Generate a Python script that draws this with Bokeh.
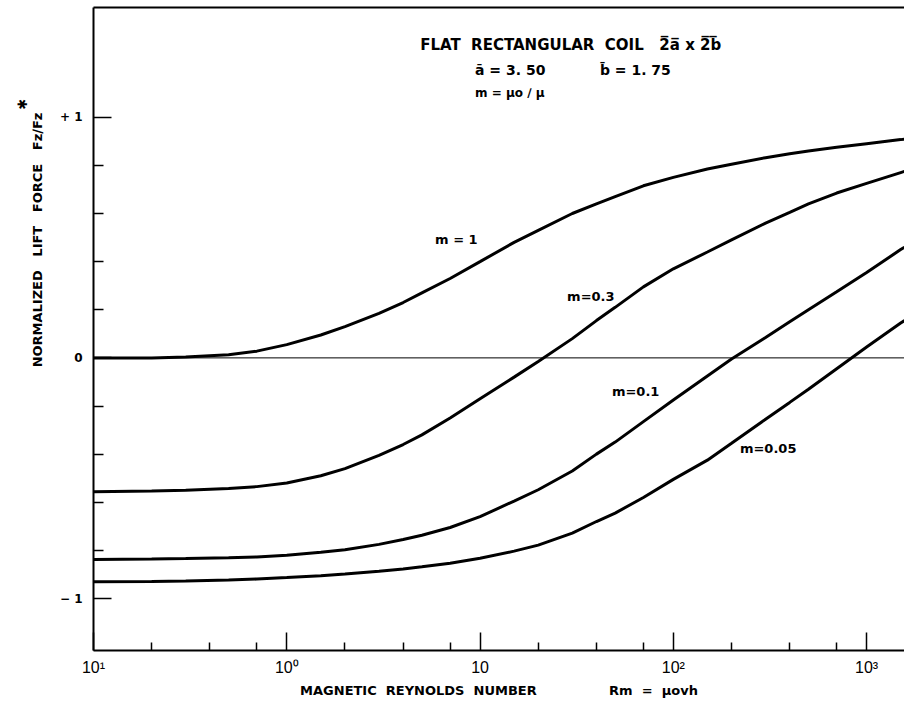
import math
from bokeh.plotting import figure
from bokeh.models import Range1d, FixedTicker, LogAxis, Label, Span, Title
from bokeh.embed import file_html
from bokeh.resources import INLINE

# ---- data ----
rm = [0.1, 0.2, 0.3, 0.5, 0.7, 1, 1.5, 2, 3, 4, 5, 7, 10, 15, 20, 30, 40, 50, 70, 100,
      150, 200, 300, 400, 500, 700, 1000, 1500, 1570]
m_1 = [0.0, 0.0, 0.004, 0.013, 0.028, 0.055, 0.095, 0.13, 0.185, 0.23, 0.27, 0.33, 0.40, 0.48, 0.53,
       0.60, 0.64, 0.67, 0.715, 0.75, 0.785, 0.805, 0.832, 0.848, 0.86, 0.875, 0.89, 0.907, 0.909]
m_03 = [-0.556, -0.553, -0.55, -0.543, -0.535, -0.52, -0.49, -0.46, -0.405, -0.36, -0.32, -0.25, -0.17,
        -0.08, -0.015, 0.08, 0.155, 0.21, 0.295, 0.37, 0.44, 0.49, 0.56, 0.605, 0.64, 0.685, 0.725,
        0.77, 0.775]
m_01 = [-0.838, -0.836, -0.834, -0.831, -0.827, -0.82, -0.808, -0.797, -0.775, -0.755, -0.737, -0.705,
        -0.66, -0.595, -0.548, -0.47, -0.40, -0.35, -0.265, -0.175, -0.075, -0.005, 0.085, 0.15, 0.2,
        0.275, 0.355, 0.45, 0.46]
m_005 = [-0.93, -0.929, -0.927, -0.923, -0.919, -0.913, -0.905, -0.898, -0.887, -0.877, -0.868, -0.853,
         -0.833, -0.803, -0.778, -0.728, -0.68, -0.645, -0.58, -0.505, -0.425, -0.355, -0.255, -0.185,
         -0.13, -0.045, 0.045, 0.145, 0.155]

x_major = [0.1, 1, 10, 100, 1000]
x_major_labels = ["10\u00b9", "10\u2070", "10", "10\u00b2", "10\u00b3"]
x_minor = [0.2, 0.4, 0.7, 2, 4, 7, 20, 40, 70, 200, 400, 700]
y_major = [-1, 0, 1]
y_major_labels = ["\u2212 1", "0", "+ 1"]
y_minor = [-0.8, -0.6, -0.4, -0.2, 0.2, 0.4, 0.6, 0.8]

FONT = "DejaVu Sans"
NB = "\u00a0"

p = figure(width=904, height=700, x_axis_type="log",
           x_range=Range1d(0.1, 1570), y_range=Range1d(-1.216, 1.456),
           output_backend="svg", toolbar_location=None,
           min_border_left=93, min_border_right=0, min_border_top=7, min_border_bottom=49)
p.grid.visible = False
p.outline_line_color = None
p.background_fill_color = "white"
p.border_fill_color = "white"

# bottom axis
xa = p.xaxis[0]
xa.ticker = FixedTicker(ticks=x_major, minor_ticks=x_minor)
xa.major_label_overrides = {k: v for k, v in zip(x_major, x_major_labels)}
xa.major_tick_in = 18
xa.major_tick_out = 0
xa.minor_tick_in = 8
xa.minor_tick_out = 0
xa.major_tick_line_width = 1.5
xa.minor_tick_line_width = 1.5
xa.axis_line_width = 2
xa.major_label_standoff = 8
xa.major_label_text_font = "Liberation Sans"
xa.major_label_text_font_size = "16px"
xa.major_label_text_color = "black"
xa.axis_label = ("MAGNETIC" + NB * 2 + "REYNOLDS" + NB * 2 + "NUMBER" + NB * 16 +
                 "Rm" + NB * 2 + "=" + NB * 2 + "\u03bcovh")
xa.axis_label_text_font = FONT
xa.axis_label_text_font_style = "bold"
xa.axis_label_text_font_size = "13px"
xa.axis_label_text_color = "black"
xa.axis_label_standoff = 4

# left axis
ya = p.yaxis[0]
ya.ticker = FixedTicker(ticks=y_major, minor_ticks=y_minor)
ya.major_label_overrides = {k: v for k, v in zip(y_major, y_major_labels)}
ya.major_tick_in = 18
ya.major_tick_out = 0
ya.minor_tick_in = 10
ya.minor_tick_out = 0
ya.major_tick_line_width = 1.5
ya.minor_tick_line_width = 1.5
ya.axis_line_width = 2
ya.major_label_standoff = 11
ya.major_label_text_font = FONT
ya.major_label_text_font_style = "bold"
ya.major_label_text_font_size = "12px"
ya.major_label_text_color = "black"

# y label as a two-line side title: the asterisk sits on the outer line, at the end
ylab = (NB * 57 + "\u2731\n" + "NORMALIZED" + NB * 3 + "LIFT" + NB * 3 + "FORCE" + NB * 3 +
        "Fz\u2215Fz" + NB * 3)
p.add_layout(Title(text=ylab, align="right", offset=91, standoff=24, text_font=FONT,
                   text_font_size="13px", text_font_style="bold", text_color="black"), "left")

# top border
top = LogAxis(ticker=FixedTicker(ticks=[]), major_label_text_font_size="0px",
              major_tick_line_color=None, minor_tick_line_color=None, axis_line_width=2,
              major_label_standoff=0)
p.add_layout(top, "above")

# zero line
p.add_layout(Span(location=0, dimension="width", line_color="black", line_width=1))

for ys in (m_1, m_03, m_01, m_005):
    p.line(rm, ys, line_color="black", line_width=3)


def lab(x, y, text, size="13px", align="left", angle=0.0, style="bold", font=FONT):
    p.add_layout(Label(x=x, y=y, text=text, text_font=font, text_font_size=size,
                       text_font_style=style, text_align=align, text_baseline="middle",
                       angle=angle, text_color="black"))


ov = "\u0305"
lab(4.9, 1.299, "FLAT" + NB * 2 + "RECTANGULAR" + NB * 2 + "COIL" + NB * 3 +
    "2" + ov + "a" + ov + " x " + "2" + ov + "b" + ov, size="15px")
lab(9.42, 1.195, "\u0101 = 3. 50", size="14px")
lab(41.7, 1.195, "b\u0304 = 1. 75", size="14px")
lab(9.42, 1.100, "m = \u03bco \u2215 \u03bc", size="12px")

lab(5.85, 0.49, "m = 1")
lab(28.2, 0.253, "m=0.3")
lab(48.1, -0.141, "m=0.1")
lab(221, -0.378, "m=0.05")

open("out.html", "w").write(file_html(p, INLINE))
